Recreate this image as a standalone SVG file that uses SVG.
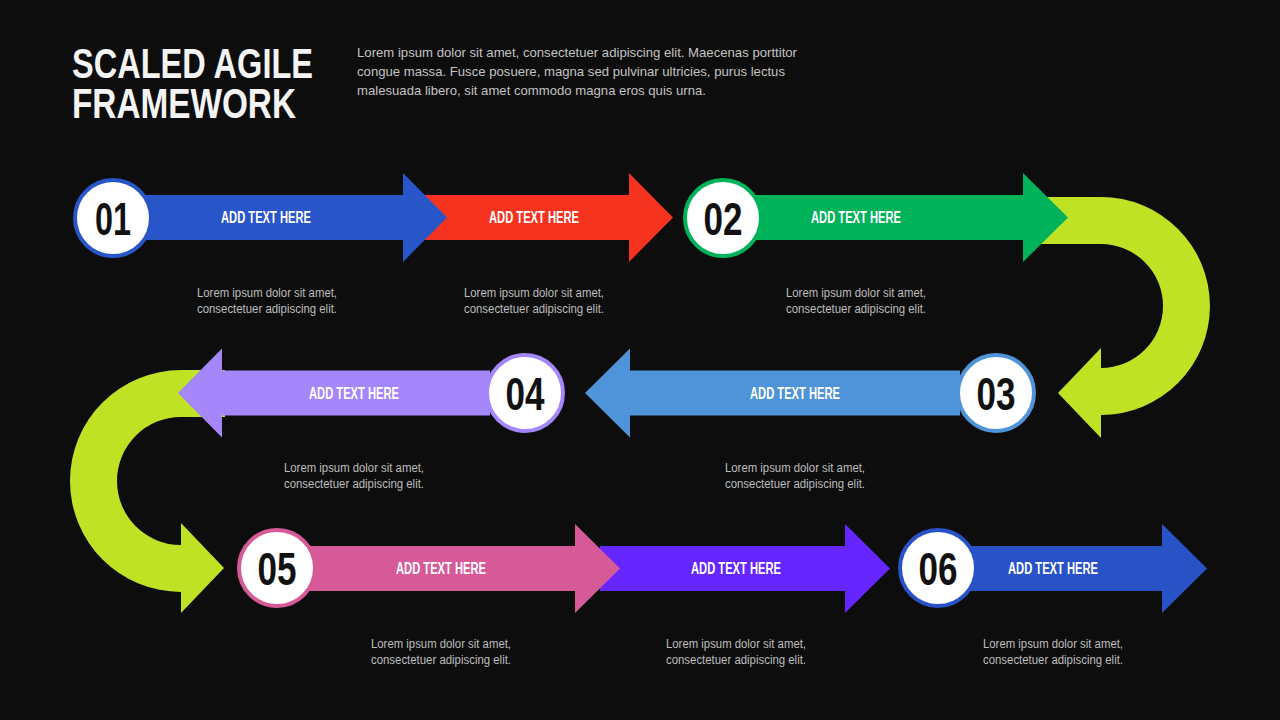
<svg xmlns="http://www.w3.org/2000/svg" width="1280" height="720" viewBox="0 0 1280 720">
<style>
.title{font-family:"Liberation Sans",Arial,sans-serif;font-weight:700;font-size:43px;fill:#f4f4f4}
.para{font-family:"Liberation Sans",Arial,sans-serif;font-size:13.5px;fill:#c4c4c4}
.num{font-family:"Liberation Sans",Arial,sans-serif;font-weight:700;font-size:47px;fill:#111;text-anchor:middle}
.lbl{font-family:"Liberation Sans",Arial,sans-serif;font-weight:700;font-size:16px;fill:#fff;text-anchor:middle}
.desc{font-family:"Liberation Sans",Arial,sans-serif;font-size:12px;fill:#bdbdbd;text-anchor:middle}
.circ{fill:#fff;stroke-width:4}
.lime{fill:#bfe324}
</style>
<rect width="1280" height="720" fill="#0d0d0d"/>
<g id="header">
<text class="title"><tspan x="72" y="78" textLength="241" lengthAdjust="spacingAndGlyphs">SCALED AGILE</tspan><tspan x="72" y="118" textLength="224" lengthAdjust="spacingAndGlyphs">FRAMEWORK</tspan></text>
<text class="para" x="357" y="57" textLength="440" lengthAdjust="spacingAndGlyphs">Lorem ipsum dolor sit amet, consectetuer adipiscing elit. Maecenas porttitor</text>
<text class="para" x="357" y="76" textLength="428" lengthAdjust="spacingAndGlyphs">congue massa. Fusce posuere, magna sed pulvinar ultricies, purus lectus</text>
<text class="para" x="357" y="95" textLength="349" lengthAdjust="spacingAndGlyphs">malesuada libero, sit amet commodo magna eros quis urna.</text>
</g>
<g id="connectors">
<path class="lime" d="M1040,197 H1101 A109,109 0 0 1 1101,415 V438 L1058,393 L1101,348 V368 A62,62 0 0 0 1101,244 H1040 Z"/>
<path class="lime" d="M225,370 H181 A111,111 0 0 0 181,592 V613 L224,568 L181,523 V545 A64,64 0 0 1 181,417 H225 Z"/>
</g>
<g id="step-red">
<path fill="#f5331f" d="M420,195 H629 V173 L673,217.5 L629,262 V240 H420 Z"/>
<text class="lbl" x="534" y="223" textLength="90" lengthAdjust="spacingAndGlyphs">ADD TEXT HERE</text>
<text class="desc" x="534" y="297" textLength="140" lengthAdjust="spacingAndGlyphs">Lorem ipsum dolor sit amet,</text>
<text class="desc" x="534" y="313" textLength="140" lengthAdjust="spacingAndGlyphs">consectetuer adipiscing elit.</text>
</g>
<g id="step-01">
<path fill="#2855c8" d="M140,195 H403 V173 L447,217.5 L403,262 V240 H140 Z"/>
<circle class="circ" cx="113" cy="218" r="38" stroke="#2855c8"/>
<text class="num" x="113" y="235" textLength="36" lengthAdjust="spacingAndGlyphs">01</text>
<text class="lbl" x="266" y="223" textLength="90" lengthAdjust="spacingAndGlyphs">ADD TEXT HERE</text>
<text class="desc" x="267" y="297" textLength="140" lengthAdjust="spacingAndGlyphs">Lorem ipsum dolor sit amet,</text>
<text class="desc" x="267" y="313" textLength="140" lengthAdjust="spacingAndGlyphs">consectetuer adipiscing elit.</text>
</g>
<g id="step-02">
<path fill="#00b35a" d="M740,195 H1023 V173 L1068,217.5 L1023,262 V240 H740 Z"/>
<circle class="circ" cx="723" cy="218" r="38" stroke="#00b35a"/>
<text class="num" x="723" y="235" textLength="39" lengthAdjust="spacingAndGlyphs">02</text>
<text class="lbl" x="856" y="223" textLength="90" lengthAdjust="spacingAndGlyphs">ADD TEXT HERE</text>
<text class="desc" x="856" y="297" textLength="140" lengthAdjust="spacingAndGlyphs">Lorem ipsum dolor sit amet,</text>
<text class="desc" x="856" y="313" textLength="140" lengthAdjust="spacingAndGlyphs">consectetuer adipiscing elit.</text>
</g>
<g id="step-03">
<path fill="#4f94d8" d="M960,370.5 H630 V348.5 L585,393 L630,437.5 V415.5 H960 Z"/>
<circle class="circ" cx="996" cy="393" r="38" stroke="#4f94d8"/>
<text class="num" x="996" y="410" textLength="39" lengthAdjust="spacingAndGlyphs">03</text>
<text class="lbl" x="795" y="398.5" textLength="90" lengthAdjust="spacingAndGlyphs">ADD TEXT HERE</text>
<text class="desc" x="795" y="472" textLength="140" lengthAdjust="spacingAndGlyphs">Lorem ipsum dolor sit amet,</text>
<text class="desc" x="795" y="488" textLength="140" lengthAdjust="spacingAndGlyphs">consectetuer adipiscing elit.</text>
</g>
<g id="step-04">
<path fill="#a586fb" d="M490,370.5 H222 V348.5 L178,393 L222,437.5 V415.5 H490 Z"/>
<circle class="circ" cx="525" cy="393" r="38" stroke="#a586fb"/>
<text class="num" x="525" y="410" textLength="39" lengthAdjust="spacingAndGlyphs">04</text>
<text class="lbl" x="354" y="398.5" textLength="90" lengthAdjust="spacingAndGlyphs">ADD TEXT HERE</text>
<text class="desc" x="354" y="472" textLength="140" lengthAdjust="spacingAndGlyphs">Lorem ipsum dolor sit amet,</text>
<text class="desc" x="354" y="488" textLength="140" lengthAdjust="spacingAndGlyphs">consectetuer adipiscing elit.</text>
</g>
<g id="step-violet">
<path fill="#6526ff" d="M600,546 H845 V524 L890,568.5 L845,613 V591 H600 Z"/>
<text class="lbl" x="736" y="574" textLength="90" lengthAdjust="spacingAndGlyphs">ADD TEXT HERE</text>
<text class="desc" x="736" y="648" textLength="140" lengthAdjust="spacingAndGlyphs">Lorem ipsum dolor sit amet,</text>
<text class="desc" x="736" y="664" textLength="140" lengthAdjust="spacingAndGlyphs">consectetuer adipiscing elit.</text>
</g>
<g id="step-05">
<path fill="#d65a98" d="M300,546 H575 V524 L620,568.5 L575,613 V591 H300 Z"/>
<circle class="circ" cx="277" cy="568" r="38" stroke="#d65a98"/>
<text class="num" x="277" y="585" textLength="39" lengthAdjust="spacingAndGlyphs">05</text>
<text class="lbl" x="441" y="574" textLength="90" lengthAdjust="spacingAndGlyphs">ADD TEXT HERE</text>
<text class="desc" x="441" y="648" textLength="140" lengthAdjust="spacingAndGlyphs">Lorem ipsum dolor sit amet,</text>
<text class="desc" x="441" y="664" textLength="140" lengthAdjust="spacingAndGlyphs">consectetuer adipiscing elit.</text>
</g>
<g id="step-06">
<path fill="#2952c6" d="M960,546 H1162 V524 L1207,568.5 L1162,613 V591 H960 Z"/>
<circle class="circ" cx="938" cy="568" r="38" stroke="#2952c6"/>
<text class="num" x="938" y="585" textLength="39" lengthAdjust="spacingAndGlyphs">06</text>
<text class="lbl" x="1053" y="574" textLength="90" lengthAdjust="spacingAndGlyphs">ADD TEXT HERE</text>
<text class="desc" x="1053" y="648" textLength="140" lengthAdjust="spacingAndGlyphs">Lorem ipsum dolor sit amet,</text>
<text class="desc" x="1053" y="664" textLength="140" lengthAdjust="spacingAndGlyphs">consectetuer adipiscing elit.</text>
</g>
</svg>
